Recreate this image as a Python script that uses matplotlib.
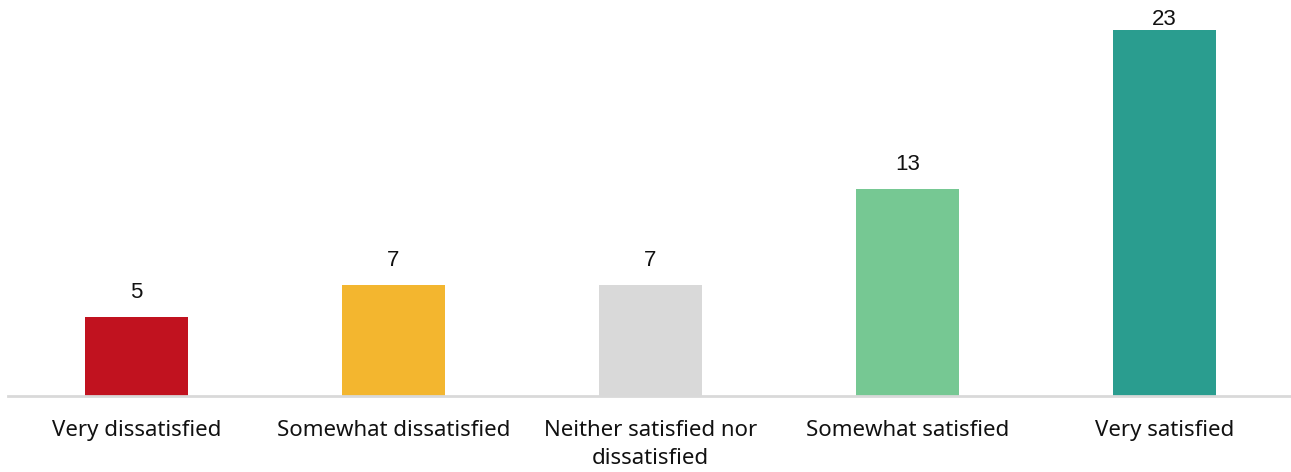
import matplotlib.pyplot as plt

categories = ["Very dissatisfied", "Somewhat dissatisfied", "Neither satisfied nor\ndissatisfied",
              "Somewhat satisfied", "Very satisfied"]
values = [5, 7, 7, 13, 23]
colors = ["#C1121F", "#F3B62F", "#D9D9D9", "#76C893", "#2A9D8F"]

fig = plt.figure(figsize=(12.91, 4.72), dpi=100)
ax = fig.add_axes([8 / 1291, 76 / 472, 1285 / 1291, 396 / 472])

x = range(len(values))
bars = ax.bar(x, values, width=0.4, color=colors)

ymax = 396 / 15.9
for b, v in zip(bars, values):
    # labels near the top edge get pulled down so they stay inside the figure
    off = 10 if v < ymax - 3 else 0
    ax.annotate(str(v), (b.get_x() + b.get_width() / 2, v), xytext=(0, off),
                textcoords="offset points", ha="center", va="bottom",
                fontsize=16, family="Liberation Sans", color="#111111")

ax.set_xlim(-0.5, 4.5)
ax.set_ylim(0, ymax)
ax.set_xticks(list(x))
ax.set_xticklabels(categories, fontsize=16, family="Noto Sans", color="#111111",
                   linespacing=1.45)
ax.tick_params(axis="x", length=0, pad=17)
ax.set_yticks([])

for s in ["top", "right", "left"]:
    ax.spines[s].set_visible(False)
ax.spines["bottom"].set_color("#D9D9D9")
ax.spines["bottom"].set_linewidth(2)

fig.savefig("out.png", dpi=100)
